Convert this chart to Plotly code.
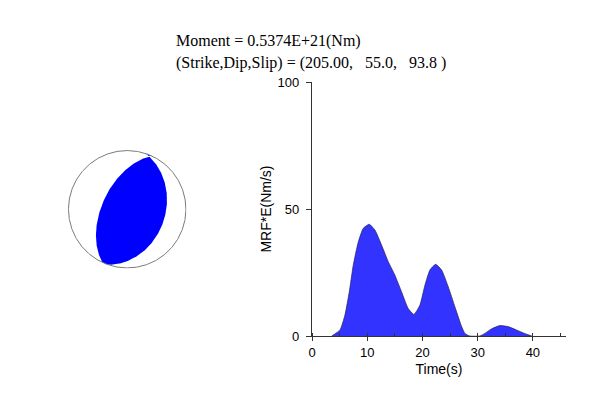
import numpy as np
import plotly.graph_objects as go

# ---------------- data ----------------
time_s = [3.56, 5.07, 5.97, 6.76, 7.48, 8.39, 9.29, 10.38, 11.4, 12.6, 13.8, 15.0,
          16.2, 17.4, 18.46, 19.55, 20.45, 21.36, 22.39, 23.47, 24.67, 25.88, 27.1,
          27.7, 28.6, 30.4, 31.3, 32.5, 34.0, 35.5, 37.0, 38.5, 39.8]
mrf = [0.0, 2.4, 8.3, 17.5, 28.0, 37.1, 42.4, 44.0, 41.7, 35.8, 29.3, 24.0,
       17.5, 10.9, 8.5, 12.2, 20.0, 26.0, 28.2, 26.0, 19.4, 11.5, 3.7,
       1.0, 0.0, 0.0, 1.0, 2.8, 4.1, 3.7, 2.4, 1.0, 0.0]
x_ticks = [0, 10, 20, 30, 40]
y_ticks = [0, 50, 100]
moment_text = "Moment = 0.5374E+21(Nm)"
strike, dip, rake = 205.0, 55.0, 93.8
mech_text = "(Strike,Dip,Slip) = (205.00,   55.0,   93.8 )"

W, H = 595, 400
OFF = 8  # page body margin of the written html


def px(x):
    return (x - OFF) / W


def py(y):
    return 1 - (y - OFF) / H


# ---------------- beachball geometry ----------------
s, d, l = np.radians([strike, dip, rake])
n_vec = np.array([-np.sin(d) * np.sin(s), np.sin(d) * np.cos(s), -np.cos(d)])
u_vec = np.array([np.cos(l) * np.cos(s) + np.cos(d) * np.sin(l) * np.sin(s),
                  np.cos(l) * np.sin(s) - np.cos(d) * np.sin(l) * np.cos(s),
                  -np.sin(l) * np.sin(d)])


def project(v):
    v = np.atleast_2d(v)
    dn = np.clip(v[:, 2], 0, 1)
    p = np.arcsin(dn)
    tr = np.arctan2(v[:, 1], v[:, 0])
    r = np.sqrt(2) * np.sin((np.pi / 2 - p) / 2)
    return r * np.sin(tr), r * np.cos(tr)


def plane_basis(normal):
    v = normal / np.linalg.norm(normal)
    h = np.cross(v, [0, 0, 1.0])
    h /= np.linalg.norm(h)
    w = np.cross(v, h)
    if w[2] < 0:
        w = -w
    return h, w


B = np.cross(n_vec, u_vec)
B /= np.linalg.norm(B)
if B[2] < 0:
    B = -B


def polarity(v):
    return np.dot(n_vec, v) * np.dot(u_vec, v)


segs = []  # per plane: list of (points edge->B, edge azimuth)
for normal in (n_vec, u_vec):
    h, w = plane_basis(normal)
    tB = np.arctan2(np.dot(B, w), np.dot(B, h))
    plane_segs = []
    for t0 in (0.0, np.pi):
        t = np.linspace(t0, tB, 200)
        pts = np.outer(np.cos(t), h) + np.outer(np.sin(t), w)
        e = np.cos(t0) * h
        plane_segs.append((pts, np.arctan2(e[1], e[0])))
    segs.append(plane_segs)

all_az = [az for ps in segs for (_, az) in ps]
regions = []
for pts1, az1 in segs[0]:
    for pts2, az2 in segs[1]:
        others = [a for a in all_az if not np.isclose(a, az1) and not np.isclose(a, az2)]
        delta = (az1 - az2) % (2 * np.pi)
        inside = any(((a - az2) % (2 * np.pi)) < delta for a in others)
        if inside:
            delta = delta - 2 * np.pi
        az_arc = az2 + np.linspace(0, delta, 60)
        mid = az2 + delta / 2
        if polarity(np.array([np.cos(mid), np.sin(mid), 0.0])) <= 0:
            continue
        x1, y1 = project(pts1)
        x2, y2 = project(pts2[::-1])
        xe, ye = np.sin(az_arc), np.cos(az_arc)
        regions.append((np.concatenate([x1, x2, xe]), np.concatenate([y1, y2, ye])))

fig = go.Figure()

for rx, ry in regions:
    fig.add_trace(go.Scatter(x=rx, y=ry, mode="lines", fill="toself",
                             fillcolor="#0000ff", line=dict(width=0, color="#0000ff"),
                             xaxis="x2", yaxis="y2", hoverinfo="skip", showlegend=False))
phi = np.linspace(0, 2 * np.pi, 361)
fig.add_trace(go.Scatter(x=np.cos(phi), y=np.sin(phi), mode="lines",
                         line=dict(color="#7a7a7a", width=1),
                         xaxis="x2", yaxis="y2", hoverinfo="skip", showlegend=False))

# ---------------- moment rate function ----------------
fig.add_trace(go.Scatter(x=time_s, y=mrf, mode="lines", fill="tozeroy",
                         fillcolor="#3333ff",
                         line=dict(color="#222255", width=0.7, shape="spline", smoothing=0.5),
                         showlegend=False))

sans = "Liberation Sans, Arial, sans-serif"
serif = "Liberation Serif, Times New Roman, serif"

fig.update_layout(
    width=W, height=H,
    margin=dict(l=0, r=0, t=0, b=0, pad=0, autoexpand=False),
    paper_bgcolor="white", plot_bgcolor="white",
    showlegend=False,
    xaxis=dict(domain=[px(312), px(566)], range=[0, 46], showgrid=False, zeroline=False,
               automargin=False,
               showline=True, linecolor="#333333", linewidth=1.3,
               tickmode="array", tickvals=x_ticks, ticks="outside", ticklen=4,
               tickcolor="#333333", tickfont=dict(family=sans, size=13, color="black"),
               minor=dict(dtick=5, tick0=0, ticks="inside", ticklen=3, tickcolor="#333333"),
               title=dict(text="Time(s)", font=dict(family=sans, size=14, color="black"),
                          standoff=5)),
    yaxis=dict(domain=[py(336), py(82)], range=[0, 100], showgrid=False,
               zeroline=False, showline=True, linecolor="#333333", linewidth=1.3,
               automargin=False,
               tickmode="array", tickvals=y_ticks, ticks="outside", ticklen=5,
               ticklabelstandoff=4,
               tickcolor="#333333", tickfont=dict(family=sans, size=13, color="black"),
               title=dict(text="MRF*E(Nm/s)", font=dict(family=sans, size=14, color="black"),
                          standoff=2)),
    xaxis2=dict(domain=[px(127.2 - 59.3), px(127.2 + 59.3)], range=[-1.01, 1.01],
                visible=False, anchor="y2", automargin=False),
    yaxis2=dict(domain=[py(268.5), py(150)], range=[-1.01, 1.01],
                visible=False, anchor="x2", automargin=False),
    annotations=[
        dict(text=moment_text, x=px(174), y=py(30), xref="paper", yref="paper",
             xanchor="left", yanchor="top", showarrow=False,
             font=dict(family=serif, size=16, color="black")),
        dict(text=mech_text.replace(" ", "\u00a0"), x=px(174), y=py(52),
             xref="paper", yref="paper", xanchor="left", yanchor="top", showarrow=False,
             font=dict(family=serif, size=16, color="black")),
    ],
)

fig.write_html("out.html")
